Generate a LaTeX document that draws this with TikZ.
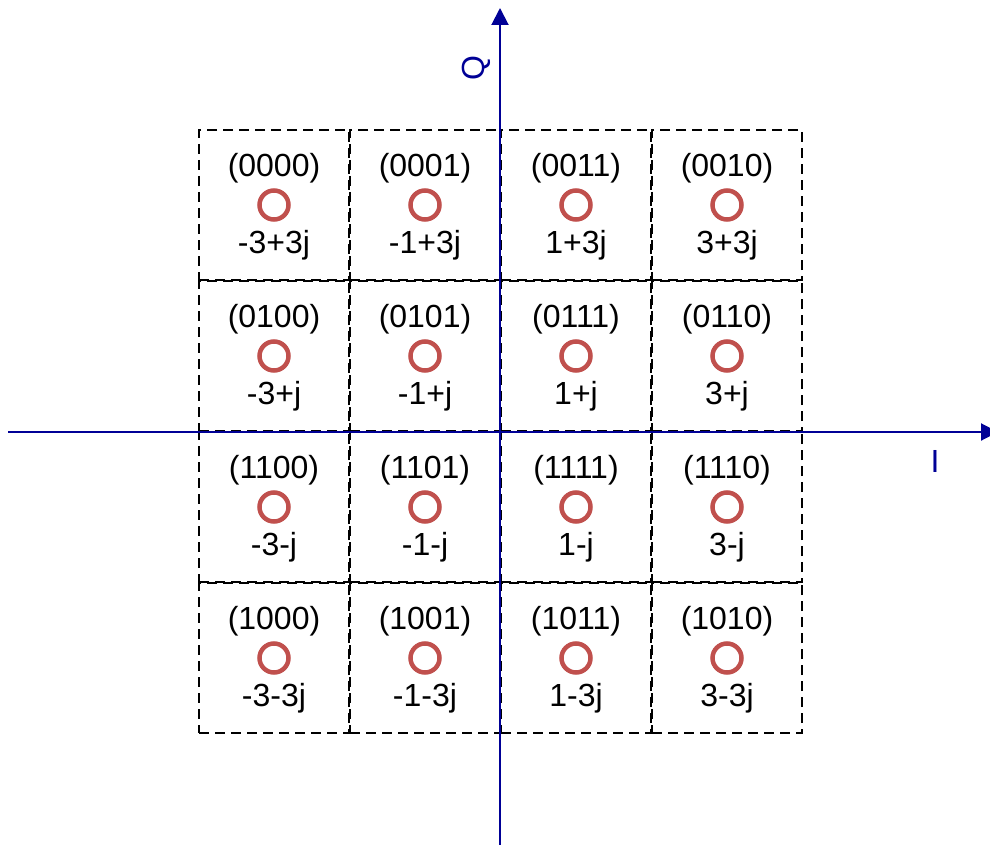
\documentclass[tikz,border=0pt]{standalone}
\usepackage{fontspec}
\setmainfont{Liberation Sans}
\usepackage{xcolor}
\usetikzlibrary{arrows.meta}

\definecolor{axisblue}{RGB}{0,0,150}
\definecolor{pointred}{RGB}{192,80,77}

\begin{document}
\begin{tikzpicture}[
    x=1pt, y=-1pt,
    cell/.style={rectangle, draw, dashed, dash pattern=on 10pt off 6pt, line width=2pt, minimum size=150pt, inner sep=0},
    pt/.style={circle, draw=pointred, line width=4.5pt, minimum size=29pt, inner sep=0},
    bits/.style={font=\fontsize{32}{38}\selectfont, inner sep=0, text height=23pt, text depth=7pt},
    val/.style={font=\fontsize{32}{38}\selectfont, inner sep=0, text height=27pt, text depth=7pt},
    axis/.style={draw=axisblue, line width=2pt, -{Triangle[width=17pt,length=17pt]}},
    label distance=5pt
]
\useasboundingbox (0,0) rectangle (990,845);

% constellation points, code word above and symbol below
\node[pt, label={[bits,name=t0000]above:(0000)}, label={[val,name=v0000]below:-3+3j}] (p0000) at (274,205) {};
\node[pt, label={[bits,name=t0001]above:(0001)}, label={[val,name=v0001]below:-1+3j}] (p0001) at (425,205) {};
\node[pt, label={[bits,name=t0011]above:(0011)}, label={[val,name=v0011]below:1+3j}] (p0011) at (576,205) {};
\node[pt, label={[bits,name=t0010]above:(0010)}, label={[val,name=v0010]below:3+3j}] (p0010) at (727,205) {};

\node[pt, label={[bits,name=t0100]above:(0100)}, label={[val,name=v0100]below:-3+j}] (p0100) at (274,356) {};
\node[pt, label={[bits,name=t0101]above:(0101)}, label={[val,name=v0101]below:-1+j}] (p0101) at (425,356) {};
\node[pt, label={[bits,name=t0111]above:(0111)}, label={[val,name=v0111]below:1+j}] (p0111) at (576,356) {};
\node[pt, label={[bits,name=t0110]above:(0110)}, label={[val,name=v0110]below:3+j}] (p0110) at (727,356) {};

\node[pt, label={[bits,name=t1100]above:(1100)}, label={[val,name=v1100]below:-3-j}] (p1100) at (274,507) {};
\node[pt, label={[bits,name=t1101]above:(1101)}, label={[val,name=v1101]below:-1-j}] (p1101) at (425,507) {};
\node[pt, label={[bits,name=t1111]above:(1111)}, label={[val,name=v1111]below:1-j}] (p1111) at (576,507) {};
\node[pt, label={[bits,name=t1110]above:(1110)}, label={[val,name=v1110]below:3-j}] (p1110) at (727,507) {};

\node[pt, label={[bits,name=t1000]above:(1000)}, label={[val,name=v1000]below:-3-3j}] (p1000) at (274,658) {};
\node[pt, label={[bits,name=t1001]above:(1001)}, label={[val,name=v1001]below:-1-3j}] (p1001) at (425,658) {};
\node[pt, label={[bits,name=t1011]above:(1011)}, label={[val,name=v1011]below:1-3j}] (p1011) at (576,658) {};
\node[pt, label={[bits,name=t1010]above:(1010)}, label={[val,name=v1010]below:3-3j}] (p1010) at (727,658) {};

% decision regions
\node[cell] (c0000) at (p0000) {};
\node[cell] (c0001) at (p0001) {};
\node[cell] (c0011) at (p0011) {};
\node[cell] (c0010) at (p0010) {};
\node[cell] (c0100) at (p0100) {};
\node[cell] (c0101) at (p0101) {};
\node[cell] (c0111) at (p0111) {};
\node[cell] (c0110) at (p0110) {};
\node[cell] (c1100) at (p1100) {};
\node[cell] (c1101) at (p1101) {};
\node[cell] (c1111) at (p1111) {};
\node[cell] (c1110) at (p1110) {};
\node[cell] (c1000) at (p1000) {};
\node[cell] (c1001) at (p1001) {};
\node[cell] (c1011) at (p1011) {};
\node[cell] (c1010) at (p1010) {};

% I/Q axes
\coordinate (iStart) at (8,432);
\coordinate (iEnd) at (998,432);
\coordinate (qStart) at (500,845);
\coordinate (qEnd) at (500,8);
\draw[axis] (iStart) -- (iEnd);
\draw[axis] (qStart) -- (qEnd);

\node[text=axisblue, font=\fontsize{32}{38}\selectfont] (ilabel) at (935,461) {I};
\node[text=axisblue, font=\fontsize{32}{38}\selectfont, rotate=90] (qlabel) at (476,68) {Q};

\end{tikzpicture}
\end{document}
